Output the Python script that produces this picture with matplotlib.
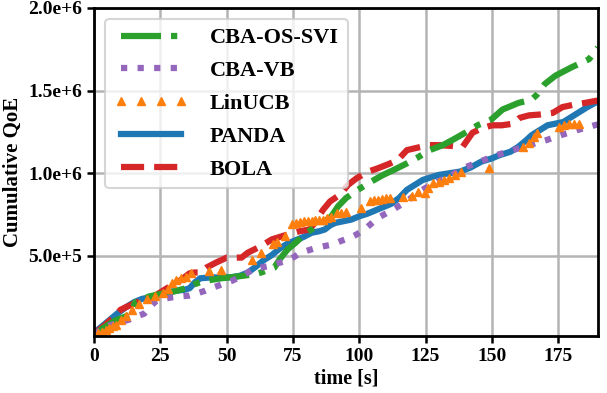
import matplotlib
matplotlib.use("Agg")
import matplotlib.pyplot as plt
from matplotlib.ticker import FuncFormatter
import numpy as np

# ---- data (y values in units of 1e5) ----
panda_t = [0, 3, 6, 9, 12, 15, 18, 21, 25, 28, 31, 34, 36, 38, 40, 44, 48, 52, 55, 58, 61, 64, 67, 70, 73, 76, 79, 82, 85, 87, 89, 91, 94, 97, 100, 103, 106, 109, 112, 115, 118, 121, 124, 127, 130, 134, 138, 142, 146, 150, 153, 157, 160, 163, 165, 168, 171, 174, 177, 180, 183, 186, 190]
panda_y = [0.35, 0.75, 1.15, 1.55, 1.9, 2.2, 2.4, 2.5, 2.65, 2.8, 2.9, 2.95, 3.05, 3.4, 3.65, 3.7, 3.7, 3.72, 3.8, 4.0, 4.35, 4.75, 5.05, 5.45, 5.75, 5.95, 6.15, 6.4, 6.5, 6.6, 6.85, 7.0, 7.1, 7.2, 7.4, 7.55, 7.75, 7.95, 8.15, 8.5, 9.0, 9.3, 9.6, 9.75, 9.9, 10.0, 10.1, 10.35, 10.7, 10.9, 11.1, 11.3, 11.6, 12.0, 12.3, 12.6, 12.9, 13.0, 13.1, 13.4, 13.7, 14.0, 14.35]

svi_t = [0, 4, 8, 12, 13.8, 15.5, 18, 20.7, 25, 30, 35.8, 38, 40.7, 44, 48, 52, 56, 60.6, 63, 66.3, 68, 70, 73, 76, 80, 82, 84.4, 87, 89.5, 92, 95, 99.5, 104, 109, 113, 118, 122, 126.6, 131.5, 135, 140, 144.6, 149.8, 154, 157, 160, 165, 167, 170, 174, 180, 186.7, 190]
svi_y = [0.25, 0.7, 1.1, 1.35, 1.5, 2.2, 2.35, 2.55, 2.7, 2.85, 3.1, 3.3, 3.45, 3.55, 3.65, 3.72, 3.8, 3.9, 4.0, 4.2, 4.3, 4.8, 5.4, 5.8, 6.4, 6.6, 6.9, 7.1, 7.4, 8.0, 8.5, 9.0, 9.45, 9.9, 10.2, 10.6, 10.95, 11.4, 11.7, 12.0, 12.45, 12.9, 13.25, 13.85, 14.05, 14.25, 14.45, 14.75, 15.4, 15.9, 16.4, 16.9, 17.6]

bola_t = [0, 4, 8, 10, 14, 18, 22, 25, 28, 31, 34, 36, 38, 40, 42.4, 46, 50, 53, 55.6, 58, 61.8, 64, 67, 70, 73, 77.6, 81.4, 84, 86.4, 89, 92.7, 95.8, 99, 103.4, 107, 111, 114.5, 118, 122, 126.6, 130, 135, 139, 142.7, 146, 150, 153.7, 156, 158, 160.5, 164, 168, 173, 176.6, 181, 185, 190]
bola_y = [0.3, 0.8, 1.4, 1.75, 2.05, 2.3, 2.5, 2.8, 3.1, 3.35, 3.7, 3.95, 4.0, 4.0, 4.3, 4.6, 4.9, 4.9, 4.9, 5.2, 5.5, 5.7, 6.0, 6.15, 6.3, 6.5, 6.6, 7.2, 7.8, 8.3, 8.7, 9.3, 9.7, 10.1, 10.3, 10.55, 10.8, 11.4, 11.55, 11.7, 11.7, 11.65, 11.6, 12.45, 12.7, 12.9, 12.9, 12.95, 13.0, 13.35, 13.5, 13.55, 13.65, 14.0, 14.15, 14.25, 14.4]

vb_t = [0, 3, 6, 9, 13.2, 16, 18.8, 21, 23.2, 26, 29.4, 32, 35.8, 39, 42, 45, 48, 52, 56, 60, 63, 66.3, 69, 72.6, 75, 78, 81, 84, 87, 90, 93, 96.4, 99, 102, 107, 112.7, 117.8, 122.8, 127, 131, 135, 139, 145.4, 151.8, 158, 164, 170.5, 176, 182, 188.7, 190]
vb_y = [0.3, 0.55, 0.8, 0.95, 1.15, 1.35, 1.5, 1.9, 2.25, 2.4, 2.5, 2.55, 2.6, 2.75, 2.9, 3.1, 3.27, 3.5, 3.8, 4.2, 4.3, 4.4, 4.55, 4.7, 4.9, 5.2, 5.35, 5.5, 5.6, 5.7, 5.9, 6.1, 6.3, 6.6, 7.3, 7.8, 8.3, 8.9, 9.3, 9.6, 9.9, 10.3, 10.7, 11.1, 11.4, 11.7, 12.0, 12.3, 12.6, 12.9, 12.95]

lin_t = [0, 1.5, 3, 4.5, 5.6, 7, 8.2, 10, 12, 14.3, 17, 20, 23, 26, 28, 29.4, 30.8, 32.6, 34.5, 36.4, 43.5, 47.7, 59.5, 63, 67.5, 69, 72, 74.5, 76, 77.5, 79, 80.5, 82, 83.5, 85, 86.5, 88, 89.5, 91.5, 93, 95, 100.8, 104, 105.5, 107, 108.5, 110, 111.5, 116.4, 120, 122, 124.7, 126, 127.8, 130, 132, 134, 136, 138.5, 149, 161.6, 164, 166, 167, 175.5, 177.4, 179, 181, 182.7]
lin_y = [0.3, 0.33, 0.4, 0.55, 0.66, 0.75, 0.85, 1.1, 1.4, 1.75, 2.1, 2.4, 2.55, 2.75, 3.0, 3.35, 3.55, 3.65, 3.75, 4.0, 4.1, 4.17, 4.75, 5.2, 5.7, 5.85, 6.2, 6.95, 7.0, 7.05, 7.1, 7.1, 7.1, 7.15, 7.15, 7.2, 7.3, 7.35, 7.6, 7.6, 7.65, 7.9, 8.3, 8.4, 8.4, 8.45, 8.5, 8.5, 8.55, 8.65, 8.85, 8.8, 9.1, 9.4, 9.5, 9.6, 9.7, 9.9, 10.1, 10.3, 11.6, 11.8, 12.2, 12.45, 12.8, 12.9, 13.0, 13.0, 13.0]

labels = ["CBA-OS-SVI", "CBA-VB", "LinUCB", "PANDA", "BOLA"]
xticks = [0, 25, 50, 75, 100, 125, 150, 175]
yticks = [5e5, 1.0e6, 1.5e6, 2.0e6]

SCALE = 1e5
FONT = "Liberation Serif"
plt.rcParams["font.family"] = FONT
plt.rcParams["font.weight"] = "bold"

fig = plt.figure(figsize=(6.07, 3.93), dpi=100)
ax = fig.add_axes([0.155, 0.145, 0.830, 0.835])

lw = 4.5
l_svi, = ax.plot(svi_t, np.array(svi_y) * SCALE, color="#2ca02c", linestyle="-.", lw=lw, zorder=2.2)
l_vb, = ax.plot(vb_t, np.array(vb_y) * SCALE, color="#9467bd", linestyle=":", lw=lw, zorder=2.3)
l_lin, = ax.plot(lin_t, np.array(lin_y) * SCALE, color="#ff7f0e", linestyle="none", marker="^", markersize=6, zorder=2.4)
l_panda, = ax.plot(panda_t, np.array(panda_y) * SCALE, color="#1f77b4", linestyle="-", lw=lw, zorder=2.0)
l_bola, = ax.plot(bola_t, np.array(bola_y) * SCALE, color="#d62728", linestyle="--", lw=lw, zorder=2.1)

ax.set_xlim(0, 190)
ax.set_ylim(1.6e4, 2.0e6)
ax.set_xticks(xticks)
ax.set_yticks(yticks)

def fmt(v, p):
    m, e = f"{v:.1e}".split("e")
    return f"{m}e{int(e):+d}"
ax.yaxis.set_major_formatter(FuncFormatter(fmt))

ax.grid(True, color="#b4b4b4", lw=1.8, zorder=0)
ax.set_axisbelow(True)
for s in ax.spines.values():
    s.set_linewidth(2.0)
    s.set_color("black")
ax.tick_params(direction="out", length=5, width=1.8, labelsize=14)
for lab in ax.get_xticklabels() + ax.get_yticklabels():
    lab.set_fontweight("bold")

ax.set_xlabel("time [s]", fontsize=14.5, fontweight="bold", labelpad=3)
ax.set_ylabel("Cumulative QoE", fontsize=15, fontweight="bold", labelpad=4)

leg = ax.legend([l_svi, l_vb, l_lin, l_panda, l_bola], labels, loc="upper left",
                numpoints=4, handlelength=3.3, handletextpad=1.0,
                prop={"family": FONT, "weight": "bold", "size": 16},
                fancybox=True, framealpha=0.8, labelspacing=0.55)
leg.get_frame().set_linewidth(1.5)

fig.savefig("out.png", dpi=100)
